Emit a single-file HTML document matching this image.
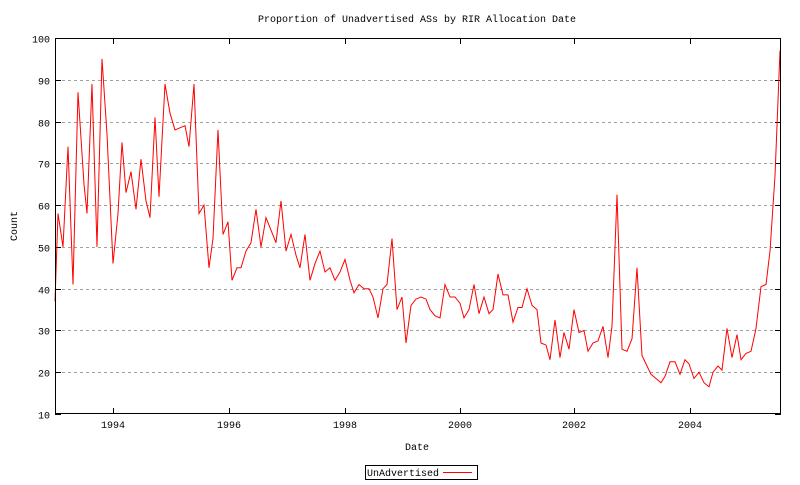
<!DOCTYPE html>
<html><head><meta charset="utf-8"><style>
html,body{margin:0;padding:0;background:#fff}
svg text{font-family:"Liberation Mono","DejaVu Sans Mono",monospace;font-size:10px;fill:#000}
</style></head><body>
<svg id="s" width="800" height="480" xmlns="http://www.w3.org/2000/svg" shape-rendering="crispEdges">
<rect width="800" height="480" fill="#fff"/>
<g id="grid" stroke="#a0a0a0" stroke-dasharray="3,3" stroke-width="1"></g>
<g id="ticks" stroke="#000" stroke-width="1"></g>
<g id="lbl"></g>
<text x="417" y="22" text-anchor="middle">Proportion of Unadvertised ASs by RIR Allocation Date</text>
<text x="417" y="450" text-anchor="middle">Date</text>
<text x="17" y="226" text-anchor="middle" transform="rotate(-90 17 226)">Count</text>
<rect x="365.5" y="465.5" width="112" height="14" fill="none" stroke="#000"/>
<text x="367" y="476">UnAdvertised</text>
<line x1="443" y1="472.5" x2="472" y2="472.5" stroke="#f00"/>
<polyline id="ln" fill="none" stroke="#f00" stroke-width="1" shape-rendering="auto"/>
<rect x="55.5" y="38.5" width="725" height="375" fill="none" stroke="#000"/>
</svg>
<script>
var ns="http://www.w3.org/2000/svg";
function el(p,t,a,txt){var e=document.createElementNS(ns,t);for(var k in a)e.setAttribute(k,a[k]);if(txt)e.textContent=txt;p.appendChild(e);}
var g=document.getElementById('grid'),tk=document.getElementById('ticks'),lb=document.getElementById('lbl');
function Y(v){return 414-(v-10)*376/90;}
for(var v=10;v<=100;v+=10){var y=Math.round(Y(v))+0.5;
 if(v>10&&v<100)el(g,'line',{x1:56,y1:y,x2:780,y2:y});
 el(tk,'line',{x1:55,y1:y,x2:61,y2:y});el(tk,'line',{x1:775,y1:y,x2:781,y2:y});
 el(lb,'text',{x:50,y:y+4,'text-anchor':'end'},String(v));}
var xs={1994:113,1996:229,1998:345,2000:460,2002:574,2004:690};
for(var k in xs){var x=xs[k]+0.5;el(tk,'line',{x1:x,y1:414,x2:x,y2:408});el(tk,'line',{x1:x,y1:38,x2:x,y2:44});
 el(lb,'text',{x:xs[k],y:428,'text-anchor':'middle'},k);}
var d=[[55,37],[58,58],[63,50],[68,74],[73,41],[78,87],[84,65],[87,58],[92,89],[97,50],[102,95],[107,77],[113,46],[118,58],[122,75],[126,63],[131,68],[136,59],[141,71],[146,61],[150,57],[155,81],[159,62],[165,89],[170,82],[175,78],[180,78.5],[185,79],[189,74],[194,89],[199,58],[204,60],[209,45],[213,52],[218,78],[223,53],[228,56],[232,42],[237,45],[241,45],[246,49],[251,51],[256,59],[261,50],[266,57],[271,54],[276,51],[281,61],[286,49],[291,53],[296,48],[300,45],[305,53],[310,42],[315,46],[320,49],[325,44],[330,45],[335,42],[340,44],[345,47],[350,42],[354,39],[359,41],[364,40],[369,40],[373,38],[378,33],[383,40],[387,41],[392,52],[397,35],[402,38],[406,27],[411,36],[416,37.5],[421,38],[426,37.5],[430,35],[435,33.5],[440,33],[445,41],[450,38],[455,38],[460,36.5],[464,33],[469,35],[474,41],[479,34],[484,38],[489,34],[493,35],[498,43.5],[503,38.5],[508,38.5],[513,32],[518,35.5],[522,35.5],[527,40],[532,36],[537,35],[541,27],[546,26.5],[550,23],[555,32.5],[560,23.5],[564,29.5],[569,25.5],[574,35],[579,29.5],[584,30],[588,25],[593,27],[598,27.5],[603,31],[608,23.5],[612,31],[617,62.5],[622,25.5],[627,25],[632,28],[637,45],[642,24],[646,22],[651,19.5],[656,18.5],[661,17.5],[665,19],[670,22.5],[675,22.5],[680,19.5],[685,23],[689,22],[694,18.5],[699,20],[704,17.5],[709,16.5],[713,20],[718,21.5],[722,20.5],[727,30.5],[732,23.5],[737,29],[741,23],[746,24.5],[751,25],[756,30.5],[761,40.5],[766,41],[770,49],[775,67],[780,97]];
document.getElementById('ln').setAttribute('points',d.map(function(p){return p[0]+','+Y(p[1]).toFixed(1);}).join(' '));
</script>
</body></html>
